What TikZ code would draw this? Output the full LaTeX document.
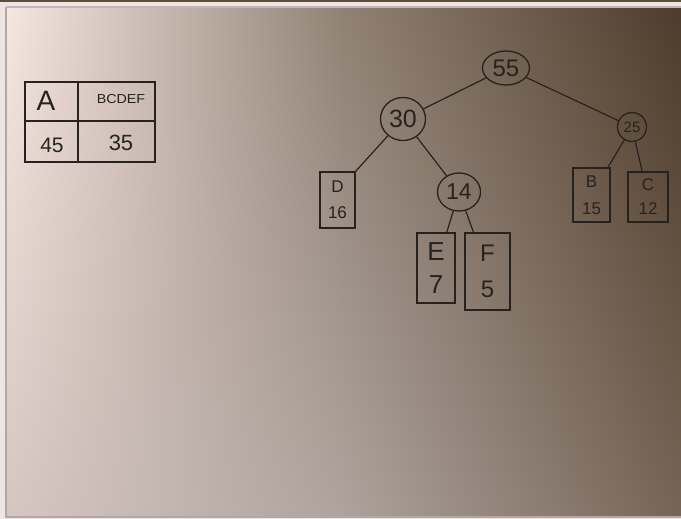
\documentclass[tikz,border=0pt]{standalone}
\usepackage{fontspec}
\setmainfont{Liberation Sans}
\usetikzlibrary{shapes.geometric,shadings}

\definecolor{ink}{RGB}{40,34,30}
\definecolor{frameline}{RGB}{178,168,163}
\definecolor{framefill}{RGB}{238,228,226}
\definecolor{photo}{RGB}{96,76,58}
% board surface tones
\definecolor{bTL}{RGB}{246,230,224}
\definecolor{bTM}{RGB}{145,130,117}
\definecolor{bTR}{RGB}{78,60,42}
\definecolor{bBL}{RGB}{214,198,193}
\definecolor{bBM}{RGB}{174,163,157}
\definecolor{bBR}{RGB}{118,100,86}

\tikzset{
  pen/.style={draw=ink, line width=1.3pt},
  edge/.style={draw=ink, line width=1.2pt},
  sumnode/.style={pen, ellipse, inner sep=0pt, text=ink},
  leafbox/.style={pen, rectangle, inner sep=0pt, align=center, text=ink},
  cell/.style={pen, rectangle, inner sep=0pt, text=ink},
  fs/.style={font=\fontsize{#1}{#1}\selectfont},
  fsl/.style 2 args={font=\fontsize{#1}{#2}\selectfont}
}

\begin{document}
\begin{tikzpicture}[x=1pt,y=-1pt]
\useasboundingbox (0,0) rectangle (681,519);

% surroundings and board surface
\fill[framefill] (0,0) rectangle (681,519);
\fill[photo] (0,0) rectangle (681,2.5);
\shade[upper left=bTL, upper right=bTM, lower left=bBL, lower right=bBM]
  (7,7) rectangle (341,516);
\shade[upper left=bTM, upper right=bTR, lower left=bBM, lower right=bBR]
  (340,7) rectangle (681,516);
\draw[frameline, line width=2pt] (6,7) -- (6,517) -- (681,517);
\draw[frameline!80!white, line width=1.5pt] (6,7) -- (681,7);

% frequency table
\node[cell, minimum width=53, minimum height=39] (ca) at (51.5,101.5) {};
\node[cell, minimum width=77, minimum height=39] (cb) at (116.5,101.5) {};
\node[cell, minimum width=53, minimum height=41] (cc) at (51.5,141.5) {};
\node[cell, minimum width=77, minimum height=41] (cd) at (116.5,141.5) {};
\coordinate (tail) at ([yshift=9]cc.south east);
\draw[pen] (cc.south east) -- (tail);
\node[fs=28, text=ink] (ta) at (46,101) {A};
\node[fs=13, text=ink] (tb) at (121,99) {\scalebox{1.1}[1.0]{BCDEF}};
\node[fs=21, text=ink] (tc) at (52,145) {45};
\node[fs=22, text=ink] (td) at (121,143) {35};

% tree
\node[sumnode, fs=24, minimum width=47, minimum height=34] (n55) at (506,68) {55};
\node[sumnode, fs=25, minimum width=45, minimum height=43] (n30) at (403,119) {30};
\node[sumnode, fs=15, minimum width=29, minimum height=29] (n25) at (632,127) {25};
\node[sumnode, fs=23, minimum width=43, minimum height=38] (n14) at (459,192) {14};

\node[leafbox, fsl={17}{26}, minimum width=35, minimum height=56] (d) at (337.5,200) {D\\16};
\node[leafbox, fsl={17}{27}, minimum width=37, minimum height=54] (b) at (591.5,195) {B\\15};
\node[leafbox, fsl={17}{24}, minimum width=40, minimum height=50] (c) at (648,197) {C\\12};
\node[leafbox, fsl={26}{33}, minimum width=38, minimum height=70] (e) at (436,268) {E\\7};
\node[leafbox, fsl={24}{36}, minimum width=45, minimum height=77] (f) at (487.5,271.5) {F\\5};

\draw[edge] (n55) -- (n30);
\draw[edge] (n55) -- (n25);
\draw[edge] (n30) -- (d.north east);
\draw[edge] (n30) -- (n14);
\draw[edge] (n14) -- (e);
\draw[edge] (n14) -- (f);
\draw[edge] (n25) -- (b);
\draw[edge] (n25) -- (c);
\end{tikzpicture}
\end{document}
